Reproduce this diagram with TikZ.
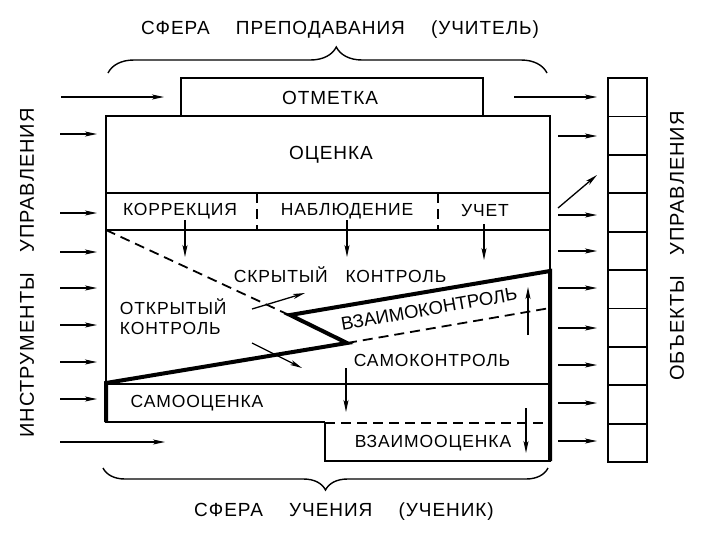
\documentclass[tikz,border=0pt]{standalone}
\usepackage{fontspec}
\setmainfont[LetterSpace=5]{Liberation Sans}
\newfontfamily\tiltfont{Liberation Sans}
\usetikzlibrary{arrows.meta,decorations.pathreplacing}

\begin{document}
\begin{tikzpicture}[x=1pt,y=-1pt,line width=1.8pt,
        lbl/.style={inner sep=0pt,font=\fontsize{17.5}{20}\selectfont},
        box/.style={inner sep=0pt,font=\fontsize{19}{22}\selectfont},
        head/.style={inner sep=0pt,font=\fontsize{19}{22}\selectfont},
        side/.style={inner sep=0pt,rotate=90,font=\fontsize{20}{22}\selectfont},
        arr/.style={line width=1.3pt,-{Stealth[length=12pt,width=5pt,inset=3pt]}},
        ctrl/.style={line width=4pt},
        dsh/.style={dash pattern=on 10pt off 6pt},
        brc/.style={line width=1.4pt,decorate}]

    \useasboundingbox (0,0) rectangle (703,539);

    %%spheres
    \node[head] (teach) at (340,30) {СФЕРА\hspace{20pt} ПРЕПОДАВАНИЯ\hspace{20pt} (УЧИТЕЛЬ)};
    \draw[brc,decoration={brace,amplitude=26pt,aspect=0.52}] (108,73) -- (547,73);
    \node[head] (learn) at (344,512) {СФЕРА\hspace{20pt} УЧЕНИЯ\hspace{20pt} (УЧЕНИК)};
    \draw[brc,decoration={brace,amplitude=22pt,aspect=0.5}] (548,468) -- (103,468);

    \node[side] (instr) at (27,273) {ИНСТРУМЕНТЫ\hspace{14pt} УПРАВЛЕНИЯ};
    \node[side] (obj) at (677,246) {ОБЪЕКТЫ\hspace{14pt} УПРАВЛЕНИЯ};

    %%teacher boxes
    \draw (181,116) -- (181,78) -- (483,78) -- (483,116);
        \node[box] (otm) at (330,98) {ОТМЕТКА};
    \draw (106,116) rectangle (550,193);
        \node[box] (ocen) at (331,155) {ОЦЕНКА};
    \draw (106,193) rectangle (550,230);
    \draw[dsh] (257,193) -- (257,230);
    \draw[dsh] (438,193) -- (438,230);
        \node[lbl] (korr) at (180,211) {КОРРЕКЦИЯ};
        \node[lbl] (nabl) at (347,211) {НАБЛЮДЕНИЕ};
        \node[lbl] (uch) at (485,211) {УЧЕТ};

    %%control field
    \draw (106,230) -- (106,422) -- (325,422);
    \draw[dsh] (325,423) -- (550,423);
    \draw (325,422) -- (325,461) -- (550,461) -- (550,230);
    \draw (106,384) -- (550,384);
    \draw[dsh] (106,230) -- (289,315);
    \draw[dsh] (347,343) -- (550,308);
    \draw[ctrl] (106,422) -- (106,383) -- (347,343) -- (290,315) -- (550,271) -- (550,461);

        \node[lbl] (skr) at (340,275) {СКРЫТЫЙ\hspace{12pt} КОНТРОЛЬ};
        \node[lbl,align=left,anchor=west] (otkr) at (119,317) {ОТКРЫТЫЙ\\КОНТРОЛЬ};
        \node[lbl,rotate=10,font=\tiltfont\fontsize{18.5}{20}\selectfont] (vzk) at (429,309) {ВЗАИМОКОНТРОЛЬ};
        \node[lbl] (samk) at (432,360) {САМОКОНТРОЛЬ};
        \node[lbl] (samo) at (197,403) {САМООЦЕНКА};
        \node[lbl] (vzo) at (433,443) {ВЗАИМООЦЕНКА};

    %%inner arrows
    \draw[arr] (185,220) -- (185,257);
    \draw[arr] (347,220) -- (347,257);
    \draw[arr] (484,224) -- (484,260);
    \draw[arr] (252,309) -- (305,293);
    \draw[arr] (252,343) -- (302,368);
    \draw[arr] (528,335) -- (528,287);
    \draw[arr] (346,368) -- (346,412);
    \draw[arr] (526,408) -- (526,453);

    %%inputs
    \draw[arr] (61,97) -- (164,97);
    \foreach \y in {134,213,252,288,325,362,399}
        \draw[arr] (60,\y) -- (97,\y);
    \draw[arr] (60,442) -- (165,442);

    %%outputs
    \draw[arr] (514,97) -- (597,97);
    \draw[arr] (558,208) -- (597,175);
    \foreach \y in {136,215,251,288,328,365,403,441}
        \draw[arr] (558,\y) -- (597,\y);

    %%objects
    \draw (608,78) rectangle (647,462);
    \foreach \i in {1,...,9}
        \draw (608,{78+38.4*\i}) -- (647,{78+38.4*\i});

\end{tikzpicture}
\end{document}
